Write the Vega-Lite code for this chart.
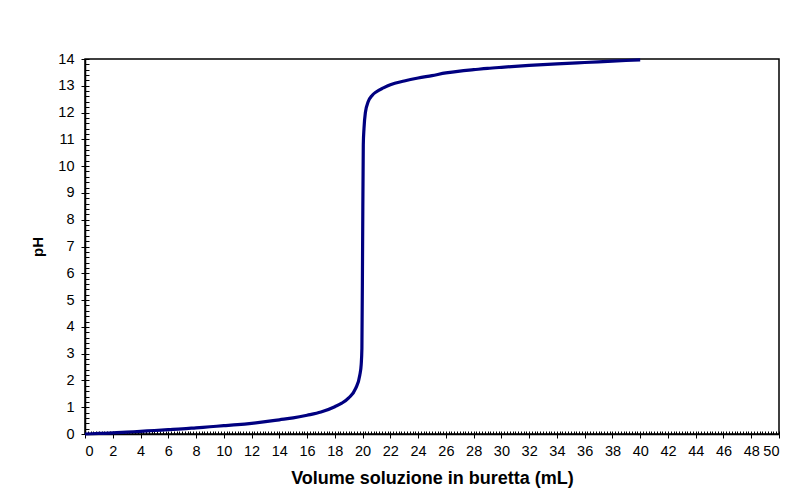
{
  "$schema": "https://vega.github.io/schema/vega-lite/v6.json",
  "autosize": {"type": "none"},
  "width": 694,
  "height": 375,
  "padding": {"left": 85, "top": 59, "right": 10, "bottom": 65},
  "background": "white",
  "config": {
    "view": {"stroke": "#000000", "strokeWidth": 1.5},
    "axis": {
      "labelFont": "Liberation Sans",
      "labelFontSize": 14.5,
      "labelColor": "#000000",
      "titleFont": "Liberation Sans",
      "titleFontSize": 15,
      "titleFontWeight": "bold",
      "titleColor": "#000000",
      "domainColor": "#000000",
      "domainWidth": 1.5,
      "tickColor": "#000000",
      "grid": false
    }
  },
  "data": {
    "values": [
      {"v": 0, "pH": 0.0},
      {"v": 1, "pH": 0.02},
      {"v": 2, "pH": 0.04},
      {"v": 3, "pH": 0.07},
      {"v": 4, "pH": 0.1},
      {"v": 5, "pH": 0.13},
      {"v": 6, "pH": 0.16},
      {"v": 7, "pH": 0.19},
      {"v": 8, "pH": 0.23},
      {"v": 9, "pH": 0.27},
      {"v": 10, "pH": 0.31},
      {"v": 11, "pH": 0.35},
      {"v": 12, "pH": 0.4},
      {"v": 13, "pH": 0.46},
      {"v": 14, "pH": 0.53},
      {"v": 15, "pH": 0.6},
      {"v": 16, "pH": 0.7},
      {"v": 17, "pH": 0.82},
      {"v": 18, "pH": 1.02},
      {"v": 18.5, "pH": 1.15},
      {"v": 19, "pH": 1.35},
      {"v": 19.5, "pH": 1.7},
      {"v": 19.8, "pH": 2.2},
      {"v": 19.9, "pH": 2.6},
      {"v": 19.95, "pH": 3.2},
      {"v": 20.0, "pH": 7.0},
      {"v": 20.05, "pH": 10.8},
      {"v": 20.1, "pH": 11.4},
      {"v": 20.2, "pH": 12.0},
      {"v": 20.4, "pH": 12.4},
      {"v": 20.7, "pH": 12.65},
      {"v": 21, "pH": 12.78},
      {"v": 21.5, "pH": 12.92},
      {"v": 22, "pH": 13.04},
      {"v": 23, "pH": 13.18},
      {"v": 24, "pH": 13.29},
      {"v": 25, "pH": 13.38},
      {"v": 26, "pH": 13.48},
      {"v": 27, "pH": 13.55},
      {"v": 28, "pH": 13.6},
      {"v": 29, "pH": 13.65},
      {"v": 30, "pH": 13.69},
      {"v": 32, "pH": 13.76},
      {"v": 34, "pH": 13.82},
      {"v": 36, "pH": 13.87},
      {"v": 38, "pH": 13.92},
      {"v": 40, "pH": 13.97}
    ]
  },
  "layer": [
    {
      "mark": {"type": "line", "strokeOpacity": 0},
      "encoding": {
        "x": {"field": "v", "type": "quantitative", "scale": {"domain": [0, 50], "nice": false},
              "axis": {"orient": "bottom", "tickCount": 250, "labels": false, "domain": false, "tickSize": -3, "title": null}},
        "y": {"field": "pH", "type": "quantitative", "scale": {"domain": [0, 14], "nice": false},
              "axis": {"orient": "left", "tickCount": 70, "labels": false, "domain": false, "tickSize": -4, "title": null}}
      }
    },
    {
      "mark": {"type": "line", "color": "#000080", "strokeWidth": 3.2, "interpolate": "monotone"},
      "encoding": {
        "x": {"field": "v", "type": "quantitative", "scale": {"domain": [0, 50], "nice": false},
              "axis": {"orient": "bottom", "tickCount": 25, "tickSize": 4, "labelPadding": 6, "title": "Volume soluzione in buretta (mL)", "titleFontSize": 18, "titlePadding": 12}},
        "y": {"field": "pH", "type": "quantitative", "scale": {"domain": [0, 14], "nice": false},
              "axis": {"orient": "left", "tickCount": 14, "tickSize": 4, "labelPadding": 7, "title": "pH", "titlePadding": 12}}
      }
    }
  ],
  "resolve": {"axis": {"x": "independent", "y": "independent"}}
}
